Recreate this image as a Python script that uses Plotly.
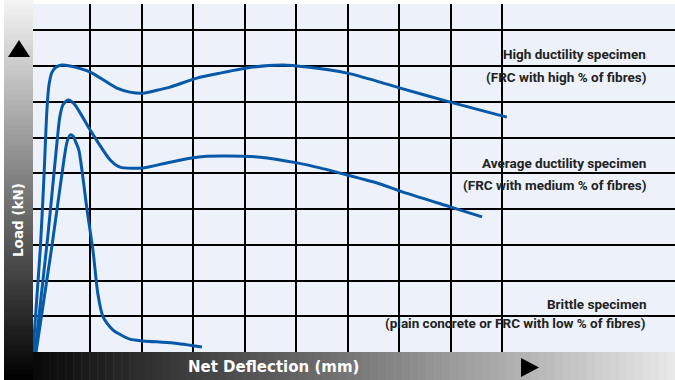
import plotly.graph_objects as go

# ---- data (deflection in grid units, load in grid units) ----
high_x = [0.0, 0.14, 0.21, 0.27, 0.31, 0.37, 0.45, 0.56, 0.72, 1.11, 1.63, 1.88, 2.14, 2.43, 2.66,
          3.18, 3.63, 4.27, 4.85, 5.32, 6.10, 6.74, 7.13, 8.10, 9.20]
high_y = [0.0, 2.85, 4.81, 6.77, 7.47, 7.83, 7.97, 8.03, 8.00, 7.83, 7.38, 7.27, 7.24, 7.33, 7.41,
          7.66, 7.80, 7.97, 8.03, 7.97, 7.80, 7.55, 7.38, 6.99, 6.57]

med_x = [0.04, 0.29, 0.47, 0.52, 0.58, 0.68, 0.80, 1.11, 1.50, 1.69, 2.14, 2.66, 3.18, 3.63, 4.41,
         5.13, 5.57, 6.10, 6.74, 7.13, 8.10, 8.72]
med_y = [0.0, 3.27, 5.93, 6.57, 6.91, 7.05, 6.94, 6.21, 5.37, 5.17, 5.15, 5.31, 5.45, 5.48, 5.45,
         5.29, 5.15, 4.95, 4.70, 4.50, 4.06, 3.78]

brit_x = [0.06, 0.37, 0.60, 0.66, 0.72, 0.78, 0.83, 0.89, 1.05, 1.17, 1.26, 1.36, 1.55, 1.88, 2.14,
          2.72, 3.28]
brit_y = [0.0, 2.99, 5.37, 5.87, 6.07, 6.04, 5.87, 5.65, 3.97, 2.77, 1.62, 0.98, 0.62, 0.36, 0.31,
          0.25, 0.14]

x_grid = [1.107 + i for i in range(9)]
y_grid = [1, 2, 3, 4, 5, 6, 7, 8, 9]

labels = [
    ("High ductility specimen", 0.856),
    ("(FRC with high % of fibres)", 0.790),
    ("Average ductility specimen", 0.543),
    ("(FRC with medium % of fibres)", 0.480),
    ("Brittle specimen", 0.138),
    ("(plain concrete or FRC with low % of fibres)", 0.083),
]

W, H = 675, 380
L, R, T, B = 33, 0, 4, 28
PW, PH = W - L - R, H - T - B


def px(xp):
    return (xp - L) / PW


def py(yp):
    return (H - B - yp) / PH


BLUE = "#0659A8"
fig = go.Figure()
for xs, ys in [(high_x, high_y), (med_x, med_y), (brit_x, brit_y)]:
    fig.add_trace(go.Scatter(x=xs, y=ys, mode="lines",
                             line=dict(color=BLUE, width=3, shape="spline", smoothing=0.7),
                             hoverinfo="skip", showlegend=False))

shapes = []
# left vertical gradient bar
n = 76
for i in range(n):
    y0 = i * H / n
    y1 = (i + 1) * H / n + 0.6
    c = int(245 * (1 - (i + 0.5) / n))
    shapes.append(dict(type="rect", xref="paper", yref="paper", x0=px(4), x1=px(33),
                       y0=py(y0), y1=py(y1), fillcolor=f"rgb({c},{c},{c})", line=dict(width=0)))
# bottom horizontal gradient bar
n = 80
for i in range(n):
    x0 = 33 + i * PW / n
    x1 = 33 + (i + 1) * PW / n + 0.6
    c = int(8 + 225 * (i + 0.5) / n)
    shapes.append(dict(type="rect", xref="paper", yref="paper", x0=px(x0), x1=px(x1),
                       y0=py(352), y1=py(380), fillcolor=f"rgb({c},{c},{c})", line=dict(width=0)))
# arrows
shapes.append(dict(type="path", xref="paper", yref="paper",
                   path=f"M {px(8)} {py(57)} L {px(30)} {py(57)} L {px(19)} {py(40)} Z",
                   fillcolor="black", line=dict(width=0)))
shapes.append(dict(type="path", xref="paper", yref="paper",
                   path=f"M {px(521)} {py(358)} L {px(521)} {py(377)} L {px(539)} {py(367.5)} Z",
                   fillcolor="black", line=dict(width=0)))

annotations = []
for text, yy in labels:
    annotations.append(dict(text=f"<b>{text}</b>", xref="paper", yref="paper", x=px(648), y=yy,
                            xanchor="right", yanchor="middle", showarrow=False,
                            font=dict(family="Roboto", size=13.5, color="#222222")))
annotations.append(dict(text="<b>Net Deflection (mm)</b>", xref="paper", yref="paper",
                        x=px(273), y=py(367), xanchor="center", yanchor="middle", showarrow=False,
                        font=dict(family="DejaVu Sans", size=15, color="white")))
annotations.append(dict(text="<b>Load (kN)</b>", xref="paper", yref="paper", textangle=-90,
                        x=px(18), y=py(220), xanchor="center", yanchor="middle", showarrow=False,
                        font=dict(family="DejaVu Sans", size=13.5, color="white")))

fig.update_layout(
    width=W, height=H,
    margin=dict(l=L, r=R, t=T, b=B, pad=0),
    paper_bgcolor="white", plot_bgcolor="#EDF2FA",
    xaxis=dict(range=[0, PW / 51.5], tickvals=x_grid, showticklabels=False, ticks="",
               showgrid=True, gridcolor="black", gridwidth=2, zeroline=False, showline=False,
               fixedrange=True),
    yaxis=dict(range=[0, PH / 35.75], tickvals=y_grid, showticklabels=False, ticks="",
               showgrid=True, gridcolor="black", gridwidth=2, zeroline=False, showline=False,
               fixedrange=True),
    shapes=shapes, annotations=annotations, showlegend=False,
)
fig.write_html("out.html", config={"displayModeBar": False},
               post_script="document.body.style.margin='0px';document.body.style.overflow='hidden';")
